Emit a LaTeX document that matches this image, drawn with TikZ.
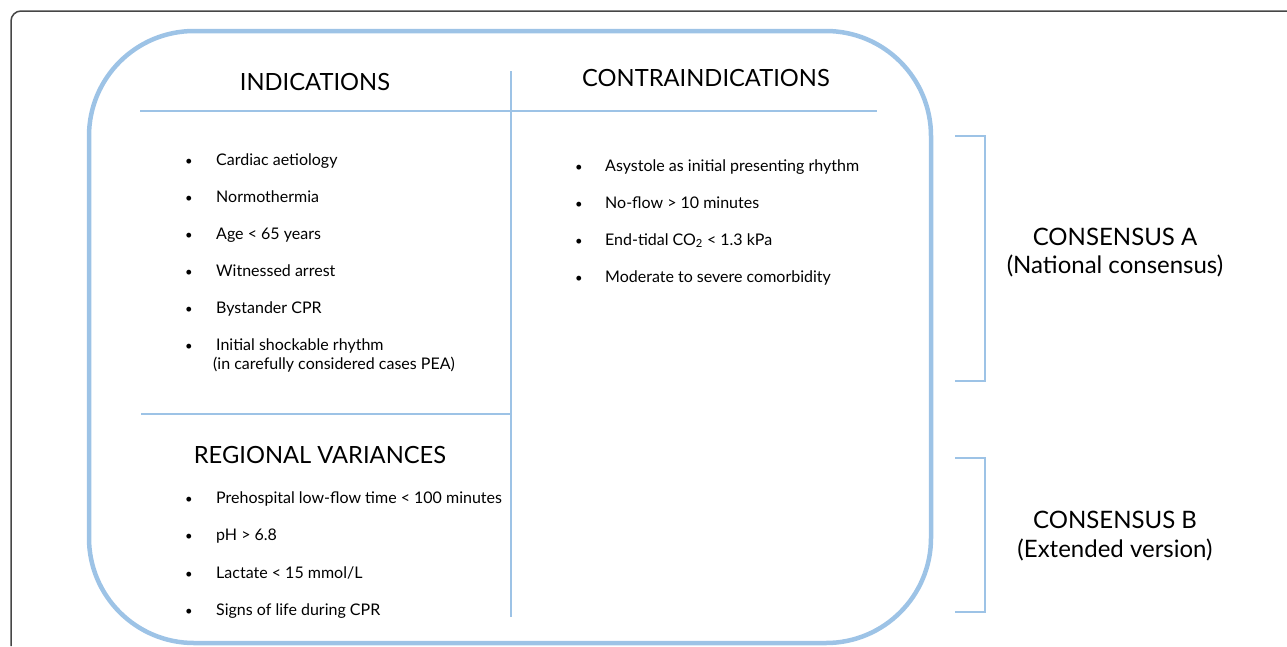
\documentclass[tikz,border=0pt]{standalone}
\usepackage{fontspec}
\setmainfont{Lato}
\definecolor{lblue}{RGB}{157,195,230}
\definecolor{frame}{RGB}{70,70,70}
\begin{document}
\begin{tikzpicture}[x=1pt,y=-1pt,
  head/.style={font=\fontsize{23.7}{28}\selectfont, anchor=base},
  item/.style={font=\fontsize{16}{19}\selectfont, anchor=base west, inner sep=0pt},
  bul/.style={font=\fontsize{13}{16}\selectfont, anchor=base, inner sep=0pt},
  sep/.style={lblue, line width=2pt},
  brk/.style={lblue, line width=2pt},
  cons/.style={font=\fontsize{24}{28}\selectfont, anchor=base}]
\useasboundingbox (0,0) rectangle (1287,646);
% outer frame
\draw[frame, line width=1.5pt] (11,646) -- (11,21) arc[start angle=180, end angle=270, radius=10] -- (1287,11);
% main rounded box
\draw[lblue, line width=4.5pt, rounded corners=105pt] (89,31) rectangle (931,643);
% dividers
\coordinate (vt) at (511,71);
\coordinate (vb) at (511,617);
\coordinate (hl1) at (140,111);
\coordinate (hr1) at (877,111);
\coordinate (hl2) at (141,414);
\coordinate (hr2) at (511,414);
\draw[sep] (vt) -- (vb);
\draw[sep] (hl1) -- (hr1);
\draw[sep] (hl2) -- (hr2);
% headings
\node[head] (ind) at (315,90) {INDICATIONS};
\node[head] (contra) at (706,86) {CONTRAINDICATIONS};
\node[head] (reg) at (320,463) {REGIONAL VARIANCES};
% indications
\foreach \y/\t [count=\i] in {165/Cardiac aetiology, 202/Normothermia, 239/Age < 65 years, 276/Witnessed arrest, 313/Bystander CPR, 350/Initial shockable rhythm}{
  \node[bul] (ib\i) at (189,\y) {•};
  \node[item] (it\i) at (216,\y) {\t};
}
\node[item] (it7) at (213,369) {(in carefully considered cases PEA)};
% contraindications
\foreach \y/\t [count=\i] in {171/Asystole as initial presenting rhythm, 208/No-flow > 10 minutes, 245/{End-tidal CO\textsubscript{2} < 1.3 kPa}, 282/Moderate to severe comorbidity}{
  \node[bul] (cb\i) at (579,\y) {•};
  \node[item] (ct\i) at (605,\y) {\t};
}
% regional variances
\foreach \y/\t [count=\i] in {503/Prehospital low-flow time < 100 minutes, 540/pH > 6.8, 578/{Lactate < 15 mmol/L}, 615/Signs of life during CPR}{
  \node[bul] (rb\i) at (189,\y) {•};
  \node[item] (rt\i) at (216,\y) {\t};
}
% brackets
\coordinate (a1) at (955,136);
\coordinate (a2) at (985,136);
\coordinate (a3) at (985,381);
\coordinate (a4) at (955,381);
\draw[brk] (a1) -- (a2) -- (a3) -- (a4);
\coordinate (b1) at (955,458);
\coordinate (b2) at (985,458);
\coordinate (b3) at (985,612);
\coordinate (b4) at (955,612);
\draw[brk] (b1) -- (b2) -- (b3) -- (b4);
\node[cons] (ca) at (1115,245) {CONSENSUS A};
\node[cons] (ca2) at (1115,273) {(National consensus)};
\node[cons] (cb) at (1115,528) {CONSENSUS B};
\node[cons] (cb2) at (1115,557) {(Extended version)};
\end{tikzpicture}
\end{document}
